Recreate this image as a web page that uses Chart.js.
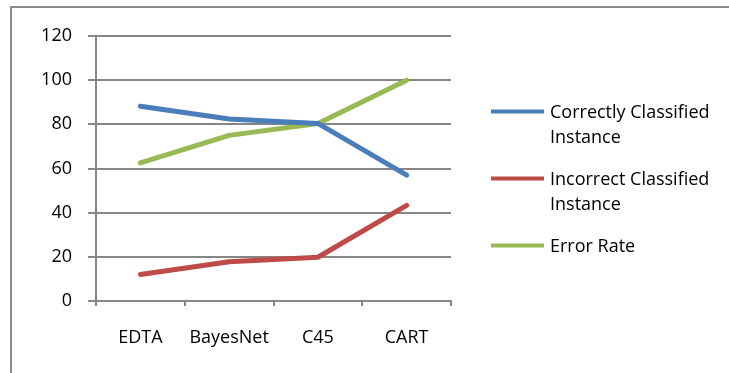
<!DOCTYPE html>
<html>
<head>
<meta charset="utf-8">
<title>Classifier Comparison</title>
<script src="https://cdn.jsdelivr.net/npm/chart.js"></script>
<style>
  body {
    margin: 0;
    background: #fff;
    overflow: hidden;
  }
  .chart-box {
    position: relative;
    width: 729px;
    height: 373px;
  }
  /* only the top and left edges of the chart frame show in the picture */
  .frame {
    position: absolute;
    left: 10px;
    top: 6px;
    width: 717px;
    height: 365px;
    border-top: 2px solid #8a8a8a;
    border-left: 2px solid #8a8a8a;
  }
</style>
</head>
<body>
<div class="chart-box">
  <div class="frame"></div>
  <canvas id="chart"></canvas>
</div>

<script>
const categories = ['EDTA', 'BayesNet', 'C45', 'CART'];
const correctlyClassified = [88.2, 82.4, 80.4, 57];
const incorrectClassified = [12, 17.8, 19.8, 43.3];
const errorRate = [62.5, 75, 80.4, 100];
const yTicks = [0, 20, 40, 60, 80, 100, 120];

const FONT = '"Open Sans", sans-serif';

function wrapText(ctx, text, maxWidth) {
  const words = text.split(' ');
  const lines = [];
  let line = '';
  words.forEach(w => {
    const test = line ? line + ' ' + w : w;
    if (line && ctx.measureText(test).width > maxWidth) {
      lines.push(line);
      line = w;
    } else {
      line = test;
    }
  });
  if (line) lines.push(line);
  return lines;
}

// legend on the right, labels wrap onto two lines like the original
const sideLegend = {
  id: 'sideLegend',
  afterDraw(chart) {
    const ctx = chart.ctx;
    const x0 = chart.chartArea.right + 40;
    ctx.save();
    ctx.font = '18px ' + FONT;
    ctx.textBaseline = 'middle';
    ctx.textAlign = 'left';
    let y = 112.5;
    chart.data.datasets.forEach(ds => {
      const lines = wrapText(ctx, ds.label, 172);
      ctx.strokeStyle = ds.borderColor;
      ctx.lineWidth = 4;
      ctx.beginPath();
      ctx.moveTo(x0, y - 1);
      ctx.lineTo(x0 + 53, y - 1);
      ctx.stroke();
      ctx.fillStyle = '#000';
      lines.forEach((t, i) => ctx.fillText(t, x0 + 59, y + i * 25));
      y += lines.length * 25 + 17;
    });
    ctx.restore();
  }
};

function series(label, data, color) {
  return {
    label: label,
    data: data,
    borderColor: color,
    backgroundColor: color,
    borderWidth: 5,
    pointRadius: 0,
    pointHoverRadius: 0,
    tension: 0,
    borderCapStyle: 'round',
    borderJoinStyle: 'round'
  };
}

new Chart(document.getElementById('chart'), {
  type: 'line',
  data: {
    labels: categories,
    datasets: [
      series('Correctly Classified Instance', correctlyClassified, '#4a7ebb'),
      series('Incorrect Classified Instance', incorrectClassified, '#be4b48'),
      series('Error Rate', errorRate, '#98b954')
    ]
  },
  options: {
    responsive: true,
    maintainAspectRatio: false,
    animation: false,
    layout: {
      padding: { top: 36, right: 278, bottom: 0, left: 0 }
    },
    plugins: {
      legend: { display: false },
      tooltip: { enabled: false }
    },
    scales: {
      x: {
        offset: true,
        grid: {
          offset: true,
          drawOnChartArea: false,
          drawTicks: true,
          tickLength: 5,
          color: '#868686',
          lineWidth: 2
        },
        border: { color: '#868686', width: 2 },
        ticks: {
          color: '#000',
          font: { family: FONT, size: 18 },
          padding: 21,
          maxRotation: 0
        },
        afterFit(scale) { scale.height = 72; }
      },
      y: {
        min: 0,
        max: 120,
        afterBuildTicks(scale) {
          scale.ticks = yTicks.map(v => ({ value: v }));
        },
        grid: {
          color: '#868686',
          lineWidth: 2,
          tickLength: 8
        },
        border: { color: '#868686', width: 2 },
        ticks: {
          color: '#000',
          font: { family: FONT, size: 18 },
          padding: 16
        },
        afterFit(scale) { scale.width = 96; }
      }
    }
  },
  plugins: [sideLegend]
});
</script>
</body>
</html>
